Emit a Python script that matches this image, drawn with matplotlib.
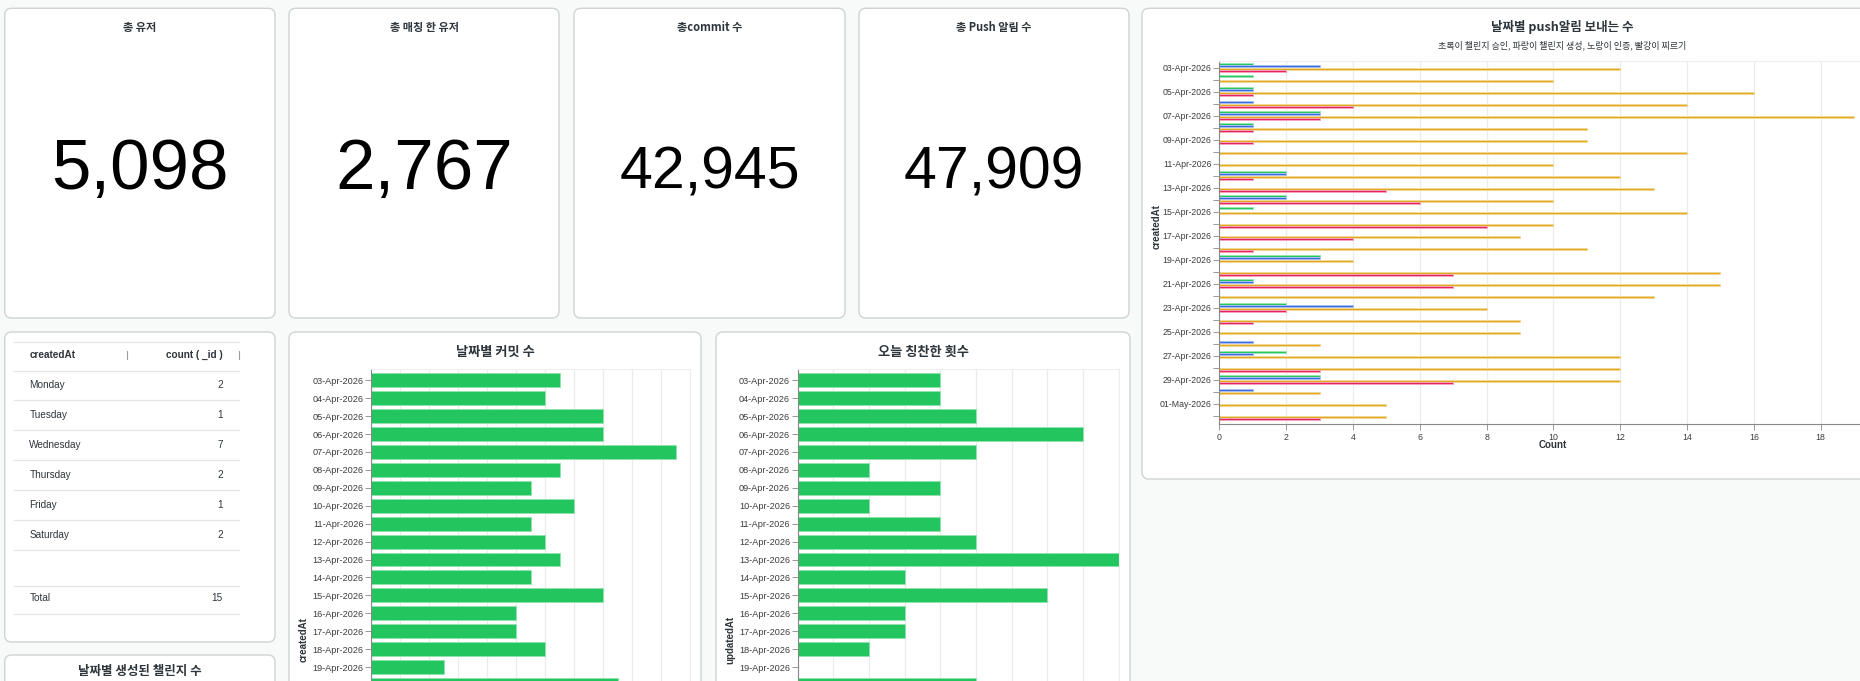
import matplotlib
matplotlib.use('Agg')
import matplotlib.pyplot as plt
from matplotlib.patches import FancyBboxPatch
import numpy as np

plt.rcParams['font.family'] = ['Noto Sans CJK KR', 'DejaVu Sans']

W, H = 1860, 681

# --- data ---
kpi_titles = ['총 유저', '총 매칭 한 유저', '총commit 수', '총 Push 알림 수']
kpi_values = [5098, 2767, 42945, 47909]

table_days = ['Monday', 'Tuesday', 'Wednesday', 'Thursday', 'Friday', 'Saturday']
table_counts = [2, 1, 7, 2, 1, 2]

commit_dates = ['03-Apr-2026', '04-Apr-2026', '05-Apr-2026', '06-Apr-2026', '07-Apr-2026',
                '08-Apr-2026', '09-Apr-2026', '10-Apr-2026', '11-Apr-2026', '12-Apr-2026',
                '13-Apr-2026', '14-Apr-2026', '15-Apr-2026', '16-Apr-2026', '17-Apr-2026',
                '18-Apr-2026', '19-Apr-2026', '20-Apr-2026']
commit_counts = [13, 12, 16, 16, 21, 13, 11, 14, 11, 12, 13, 11, 16, 10, 10, 12, 5, 17]
praise_counts = [4, 4, 5, 8, 5, 2, 4, 2, 4, 5, 9, 3, 7, 3, 3, 2, 0, 5]

push_dates = ['03-Apr-2026', '04-Apr-2026', '05-Apr-2026', '06-Apr-2026', '07-Apr-2026',
              '08-Apr-2026', '09-Apr-2026', '10-Apr-2026', '11-Apr-2026', '12-Apr-2026',
              '13-Apr-2026', '14-Apr-2026', '15-Apr-2026', '16-Apr-2026', '17-Apr-2026',
              '18-Apr-2026', '19-Apr-2026', '20-Apr-2026', '21-Apr-2026', '22-Apr-2026',
              '23-Apr-2026', '24-Apr-2026', '25-Apr-2026', '26-Apr-2026', '27-Apr-2026',
              '28-Apr-2026', '29-Apr-2026', '30-Apr-2026', '01-May-2026', '02-May-2026']
push_approve = [1, 1, 1, 0, 3, 1, 0, 0, 0, 2, 0, 2, 1, 0, 0, 0, 3, 0, 1, 0, 2, 0, 0, 0, 2, 0, 3, 0, 0, 0]
push_create = [3, 0, 1, 1, 3, 1, 0, 0, 0, 2, 0, 2, 0, 0, 0, 0, 3, 0, 1, 0, 4, 0, 0, 1, 1, 0, 3, 1, 0, 0]
push_verify = [12, 10, 16, 14, 19, 11, 11, 14, 10, 12, 13, 10, 14, 10, 9, 11, 4, 15, 15, 13, 8, 9, 9, 3, 12, 12, 12, 3, 5, 5]
push_poke = [2, 0, 1, 4, 3, 1, 1, 0, 0, 1, 5, 6, 0, 8, 4, 1, 0, 7, 7, 0, 2, 1, 0, 0, 0, 3, 7, 0, 0, 3]

GREEN = '#22c55e'
BLUE = '#3b6ae0'
YELLOW = '#e2a823'
RED = '#e8245c'
GRID = '#ebebeb'
TXT = '#2e353b'

fig = plt.figure(figsize=(W / 100, H / 100), dpi=100)
fig.patch.set_facecolor('#f8f9f9')

bg = fig.add_axes([0, 0, 1, 1])
bg.set_xlim(0, W)
bg.set_ylim(H, 0)
bg.axis('off')


def card(x0, y0, x1, y1, r=7):
    bg.add_patch(FancyBboxPatch((x0 + r, y0 + r), x1 - x0 - 2 * r, y1 - y0 - 2 * r,
                                boxstyle=f'round,pad={r}', fc='white', ec='#cfd3d5', lw=1))


def px_axes(x0, y0, x1, y1):
    return fig.add_axes([x0 / W, 1 - y1 / H, (x1 - x0) / W, (y1 - y0) / H])


# KPI cards
kpi_x = [(4.7, 275), (289, 559), (574, 845), (859, 1129)]
for (x0, x1), t, v in zip(kpi_x, kpi_titles, kpi_values):
    card(x0, 8.3, x1, 318)
    cx = (x0 + x1) / 2
    bg.text(cx, 28, t, ha='center', va='center', fontsize=8, fontweight='bold', color=TXT)
    size = 51 if v < 10000 else 42.5
    bg.text(cx, 188.5, f'{v:,}', ha='center', va='baseline', fontsize=size,
            family='Liberation Sans', color='black')

# other cards
card(1142, 8.3, 1990, 479)
card(4.7, 332, 275, 642)
card(4.7, 655, 275, 730)
card(289, 332, 701, 730)
card(716, 332, 1130, 730)

# table
line_kw = dict(color='#e4e6e8', lw=0.9)
tfont = dict(family='Liberation Sans', fontsize=7.2, color=TXT)
bg.plot([14.3, 239], [341.7, 341.7], **line_kw)
bg.text(29.3, 355, 'createdAt', ha='left', va='center', fontweight='bold', **tfont)
bg.text(222.7, 355, 'count ( _id )', ha='right', va='center', fontweight='bold', **tfont)
bg.plot([126.7, 126.7], [351, 359], color='#9a9fa3', lw=0.8)
bg.plot([239, 239], [351, 359], color='#9a9fa3', lw=0.8)
bg.plot([14.3, 239], [370.7, 370.7], **line_kw)
for i, (d, c) in enumerate(zip(table_days, table_counts)):
    yc = 385 + i * 29.9
    bg.text(29.3, yc, d, ha='left', va='center', **tfont)
    bg.text(222.7, yc, str(c), ha='right', va='center', **tfont)
    bg.plot([14.3, 239], [yc + 15.3, yc + 15.3], **line_kw)
bg.plot([14.3, 239], [585.7, 585.7], **line_kw)
bg.text(29.3, 598, 'Total', ha='left', va='center', **tfont)
bg.text(222.7, 598, str(sum(table_counts)), ha='right', va='center', **tfont)
bg.plot([14.3, 239], [614.3, 614.3], **line_kw)

bg.text(140, 672, '날짜별 생성된 챌린지 수', ha='center', va='center', fontsize=9,
        fontweight='bold', color=TXT)


def style_axes(ax):
    ax.set_facecolor('none')
    ax.grid(axis='x', color=GRID, lw=0.9)
    ax.set_axisbelow(True)
    for s in ['top', 'right']:
        ax.spines[s].set_color('#eeeeee')
    ax.spines['left'].set_color('#888888')
    ax.spines['bottom'].set_color('#888888')
    ax.tick_params(axis='y', length=4, width=0.6, color='#888888', labelsize=6.6,
                   labelcolor='#3c3c3c', pad=1.5)
    ax.tick_params(axis='x', length=4, width=0.6, color='#888888', labelsize=6.6,
                   labelcolor='#3c3c3c')
    for lab in ax.get_yticklabels() + ax.get_xticklabels():
        lab.set_family('Liberation Sans')


def day_bars(x0, x1, values, xmax, title, ylabel, ylab_x, card_cx):
    ax = px_axes(x0, 369.3, x1, 720)
    y = np.arange(len(commit_dates))
    ax.barh(y, values, height=0.78, color=GREEN, edgecolor='#8fe3ac', lw=0.6)
    ax.set_xlim(0, xmax)
    ax.set_ylim((720 - 380.3) / 17.92, -0.614)
    ax.set_yticks(y)
    # the last date falls below the visible canvas, so its label is left blank
    ax.set_yticklabels(commit_dates[:-1] + [''])
    ax.set_xticks(np.linspace(0, xmax, 12 if xmax == 22 else 10))
    ax.set_xticklabels([])
    style_axes(ax)
    bg.text(card_cx, 351.7, title, ha='center', va='center', fontsize=9.5,
            fontweight='bold', color=TXT)
    bg.text(ylab_x, 640, ylabel, ha='center', va='center', rotation=90, fontsize=7,
            fontweight='bold', family='Liberation Sans', color=TXT)
    return ax


day_bars(371.3, 690.3, commit_counts, 22, '날짜별 커밋 수', 'createdAt', 303.7, 495)
day_bars(797.7, 1118.7, praise_counts, 9, '오늘 칭찬한 횟수', 'updatedAt', 730.7, 923)

# push chart
ax = px_axes(1219.4, 61, 1887.4, 424.3)
yp = np.arange(len(push_dates))
bh = 0.194
series = [(push_approve, GREEN, '#9ae6b4'), (push_create, BLUE, '#a9bff2'),
          (push_verify, YELLOW, '#f2d998'), (push_poke, RED, '#f4a3bb')]
for k, (vals, col, edge) in enumerate(series):
    ax.barh(yp + (k - 1.5) * bh, vals, height=bh * 0.9, color=col, edgecolor=edge, lw=0.7)
ax.set_xlim(0, 20)
ax.set_ylim((424.3 - 67.5) / 12, (61 - 67.5) / 12)
ax.set_yticks(yp)
ax.set_yticklabels([d if i % 2 == 0 else '' for i, d in enumerate(push_dates)])
ax.set_xticks(np.arange(0, 19, 2))
style_axes(ax)
ax.tick_params(axis='y', labelsize=6.3, length=4)
ax.tick_params(axis='x', labelsize=6.3, length=4, pad=2)
bg.text(1562, 27, '날짜별 push알림 보내는 수', ha='center', va='center', fontsize=9,
        fontweight='bold', color=TXT)
bg.text(1562, 45, '초록이 챌린지 승인, 파랑이 챌린지 생성, 노랑이 인증, 빨강이 찌르기',
        ha='center', va='center', fontsize=6.5, color=TXT)
bg.text(1553, 445, 'Count', ha='center', va='center', fontsize=7, fontweight='bold',
        family='Liberation Sans', color=TXT)
bg.text(1156.6, 227, 'createdAt', ha='center', va='center', rotation=90, fontsize=7,
        fontweight='bold', family='Liberation Sans', color=TXT)

fig.savefig('out.png', dpi=100)
